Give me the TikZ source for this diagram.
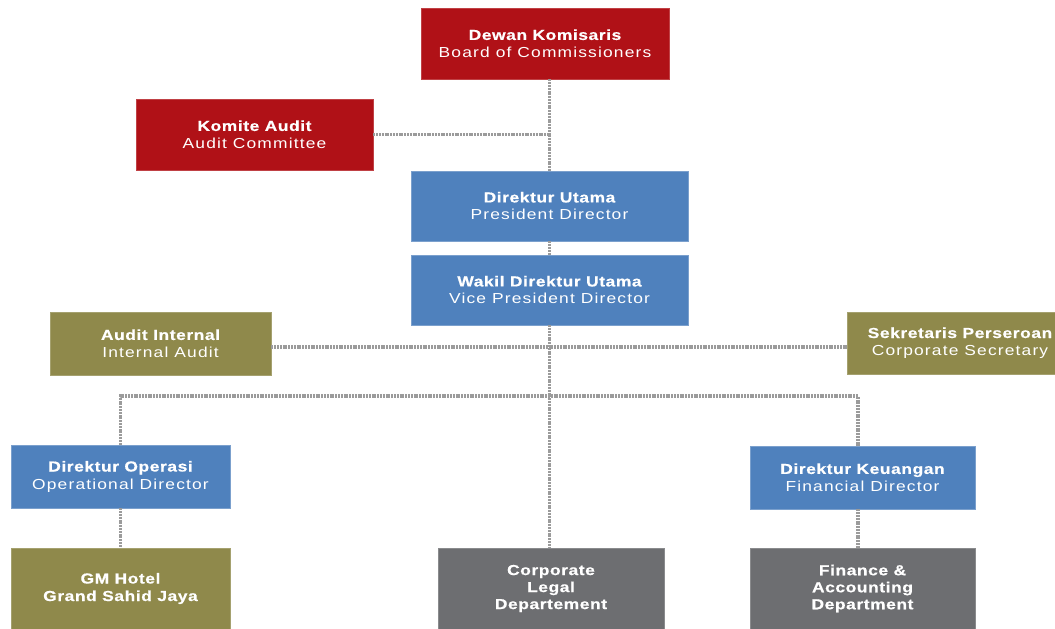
\documentclass[tikz,border=0pt]{standalone}
\usepackage{fontspec}
\setmainfont{Liberation Sans}
\newfontfamily\lab{Liberation Sans}[FakeStretch=1.2, LetterSpace=8, BoldFeatures={FakeStretch=1.2, LetterSpace=4, FakeBold=0.6}]
\definecolor{cred}{HTML}{B01117}
\definecolor{cblue}{HTML}{4F81BD}
\definecolor{colive}{HTML}{8F894B}
\definecolor{cgray}{HTML}{6D6E71}
\definecolor{cline}{HTML}{9B9B9B}
\begin{document}
\begin{tikzpicture}[x=1pt,y=-1pt,
  box/.style={rectangle, inner sep=0pt, align=center, text=white,
    font=\lab\fontsize{14.5}{17.5}\selectfont, line width=0.8pt},
  redbox/.style={box, fill=cred, draw=cred!80!white},
  bluebox/.style={box, fill=cblue, draw=cblue!75!white},
  olivebox/.style={box, fill=colive, draw=colive!80!white},
  graybox/.style={box, fill=cgray, draw=cgray!80!white},
  conn/.style={draw=cline, line width=3.5pt, dash pattern=on 2pt off 0.8pt}]
\useasboundingbox (0,0) rectangle (1055,629);
\clip (0,0) rectangle (1055,629);
\node[redbox, minimum width=248pt, minimum height=71pt] (dewan) at (545,43.5) {{\bfseries Dewan Komisaris}\\Board of Commissioners};
\node[redbox, minimum width=237pt, minimum height=71pt] (komite) at (254.5,134.5) {{\bfseries Komite Audit}\\Audit Committee};
\node[bluebox, minimum width=277pt, minimum height=70pt] (dirut) at (549.5,206) {{\bfseries Direktur Utama}\\President Director};
\node[bluebox, minimum width=277pt, minimum height=70pt] (wakil) at (549.5,290) {{\bfseries Wakil Direktur Utama}\\Vice President Director};
\node[olivebox, minimum width=221pt, minimum height=63pt] (ai) at (160.5,343.5) {{\bfseries Audit Internal}\\Internal Audit};
\node[olivebox, minimum width=226pt, minimum height=62pt] (sek) at (960,343) {{\bfseries Sekretaris Perseroan}\\Corporate Secretary};
\node[bluebox, minimum width=219pt, minimum height=63pt] (dirop) at (120.5,476.5) {{\bfseries Direktur Operasi}\\Operational Director};
\node[bluebox, minimum width=225pt, minimum height=63pt] (dirke) at (862.5,477.5) {{\bfseries Direktur Keuangan}\\Financial Director};
\node[olivebox, minimum width=219pt, minimum height=81pt, font=\lab\bfseries\fontsize{14.5}{17.5}\selectfont] (gm) at (120.5,588.5) {GM Hotel\\Grand Sahid Jaya};
\node[graybox, minimum width=226pt, minimum height=81pt, font=\lab\bfseries\fontsize{14.5}{17}\selectfont] (legal) at (551,588.5) {Corporate\\Legal\\Departement};
\node[graybox, minimum width=225pt, minimum height=81pt, font=\lab\bfseries\fontsize{14.5}{17}\selectfont] (fin) at (862.5,588.5) {Finance \&\\Accounting\\Department};
\coordinate (bus) at (549,396);
\path[conn] (dirut.north |- dewan.south) -- (dirut.north);
\path[conn] (komite.east) -- (komite.east -| dirut.north);
\path[conn] (dirut.south) -- (wakil.north);
\path[conn] (wakil.south) -- (wakil.south |- legal.north);
\path[conn] ([yshift=-3.5pt]ai.east) -- ([yshift=-3.5pt]ai.east -| sek.west);
\path[conn] (dirop.north) |- (bus) -| ([xshift=-4.5pt]dirke.north);
\path[conn] (dirop.south) -- (gm.north);
\path[conn] ([xshift=-4.5pt]dirke.south) -- ([xshift=-4.5pt]fin.north);
\end{tikzpicture}
\end{document}
